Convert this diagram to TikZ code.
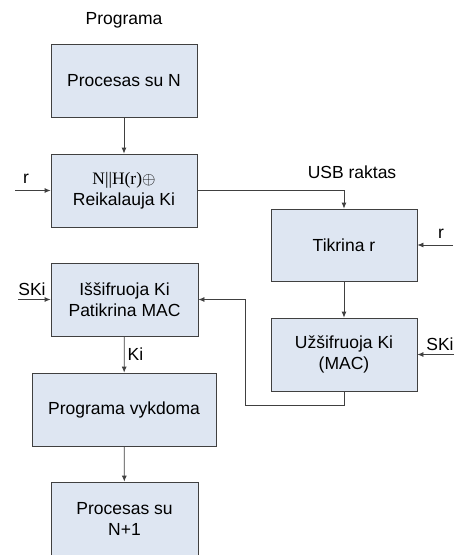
\documentclass[tikz,border=0pt]{standalone}
\usepackage{fontspec}
\setmainfont{Liberation Sans}
\newfontfamily\serifx{Liberation Serif}
\usetikzlibrary{arrows.meta}
\definecolor{boxfill}{RGB}{222,230,242}
\definecolor{linec}{RGB}{64,64,64}
\tikzset{
  blk/.style={draw=linec, fill=boxfill, line width=0.8pt, minimum width=146pt, minimum height=73pt, align=center, inner sep=0pt, font=\fontsize{17.5}{21.5}\selectfont},
  conn/.style={draw=linec, line width=0.8pt, -{Latex[length=6pt,width=5pt]}},
  lbl/.style={font=\fontsize{17.5}{20}\selectfont, inner sep=0pt}
}
\begin{document}
\begin{tikzpicture}[x=1pt,y=-1pt]
\clip (0,0) rectangle (465,555);
\fill[white] (0,0) rectangle (465,555);
\node[lbl] (title) at (124,20) {Programa};
\node[blk] (b1) at (124,81) {Procesas su N};
\node[blk] (b2) at (124,190.5) {{\serifx N||H(r)$\oplus$}\\Reikalauja Ki};
\node[blk, minimum width=147pt] (b3) at (124.5,299.5) {Iššifruoja Ki\\Patikrina MAC};
\node[blk, minimum width=184pt] (b4) at (124,409.5) {Programa vykdoma};
\node[blk, minimum width=147pt, minimum height=74pt] (b5) at (124.5,519) {Procesas su\\N+1};
\node[blk, minimum height=72pt] (t1) at (344,245) {Tikrina r};
\node[blk] (t2) at (344,354.5) {Užšifruoja Ki\\(MAC)};
\node[lbl] (usb) at (352,172) {USB raktas};

\coordinate (rin1) at (15,190.5);
\coordinate (skin1) at (18,299.5);
\coordinate (rin2) at (453,245);
\coordinate (skin2) at (454,354.5);
\coordinate (fb1) at (344,405);
\coordinate (fb2) at (245,405);
\coordinate (fb3) at (245,299.5);

\draw[conn] (b1) -- (b2);
\draw[conn] (b2.east) -| (t1.north);
\draw[conn] (rin1) -- (b2.west);
\node[lbl] (rlab1) at (26,179) {r};
\draw[conn] (skin1) -- (b3.west);
\node[lbl] (sklab1) at (32,289) {SKi};
\draw[conn] (b3) -- node[lbl, right=3pt] (kilab) {Ki} (b4);
\draw[conn] (b4) -- (b5);
\draw[conn] (t1) -- (t2);
\draw[conn] (rin2) -- (t1.east);
\node[lbl] (rlab2) at (441,234) {r};
\draw[conn] (skin2) -- (t2.east);
\node[lbl] (sklab2) at (440,344) {SKi};
\draw[conn] (t2.south) -- (fb1) -- (fb2) -- (fb3) -- (b3.east);
\end{tikzpicture}
\end{document}
